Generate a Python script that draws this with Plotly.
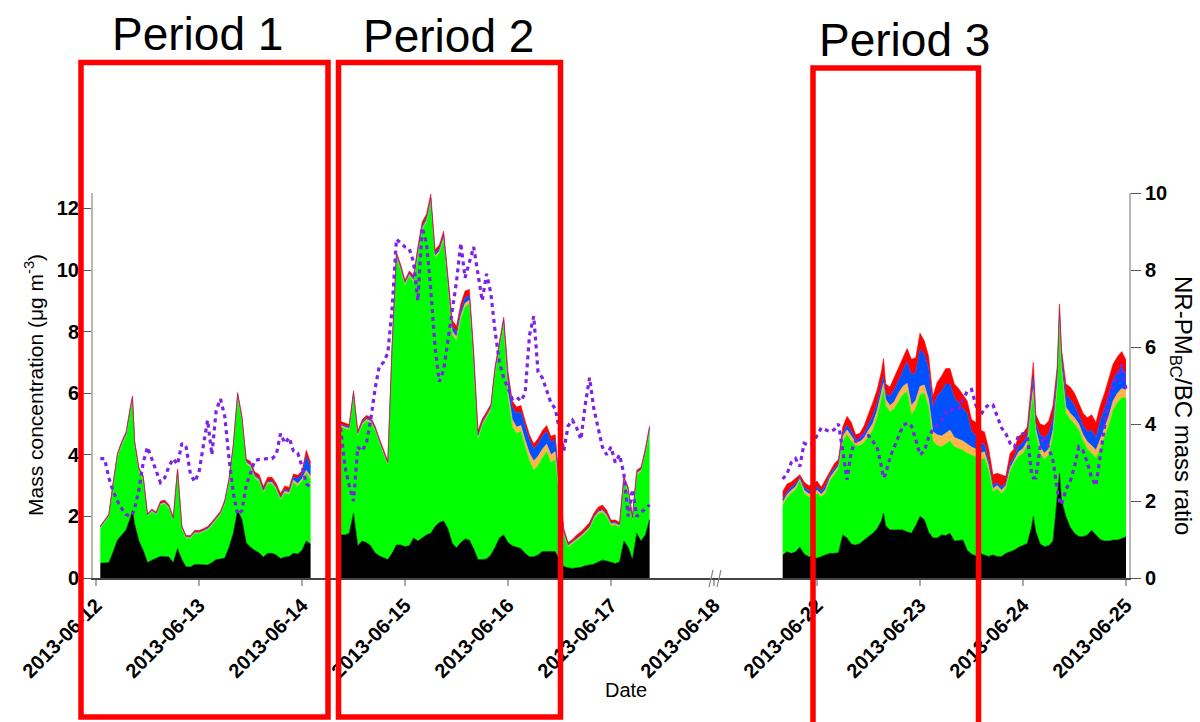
import pandas as pd
import plotly.graph_objects as go

# ---------------------------------------------------------------
# Segment 1: hours after 2013-06-12 00:00
seg1_hours = [1, 2, 3, 4, 5, 6, 7, 8, 8.5, 9, 10, 11, 12, 13, 14, 15, 16, 17, 18, 19, 20,
              21, 22, 23, 24, 25, 26, 27, 28, 29, 30, 31, 32, 33, 34, 35, 36, 37, 38, 39, 40,
              41, 42, 43, 44, 45, 46, 47, 48, 49, 50]
seg1_bc = [0.48, 0.50, 0.50, 0.85, 1.23, 1.40, 1.56, 1.95, 2.20, 1.75, 1.20, 0.90, 0.50, 0.58,
           0.65, 0.70, 0.70, 0.68, 0.50, 0.95, 0.60, 0.36, 0.36, 0.44, 0.44, 0.42, 0.42, 0.50,
           0.60, 0.62, 0.65, 1.00, 1.45, 2.20, 1.90, 1.15, 1.00, 0.90, 0.82, 0.68, 0.80, 0.80,
           0.75, 0.63, 0.68, 0.70, 0.80, 0.78, 0.90, 1.20, 1.10]
seg1_org = [1.13, 1.30, 1.49, 2.15, 2.71, 2.90, 3.03, 3.45, 3.55, 2.55, 2.25, 2.30, 1.50, 1.57,
            1.40, 1.67, 1.70, 1.58, 1.38, 2.50, 1.00, 0.93, 0.93, 1.01, 1.00, 1.08, 1.14, 1.20,
            1.28, 1.43, 1.75, 2.10, 2.75, 3.65, 3.20, 2.55, 2.60, 2.34, 2.32, 2.08, 2.26, 2.26,
            2.11, 1.90, 2.08, 2.00, 2.30, 2.20, 2.24, 2.20, 2.10]
seg1_nh4 = [0.03, 0.03, 0.03, 0.04, 0.04, 0.05, 0.05, 0.05, 0.05, 0.05, 0.05, 0.04, 0.03, 0.03,
            0.03, 0.04, 0.04, 0.04, 0.03, 0.03, 0.03, 0.03, 0.03, 0.03, 0.03, 0.03, 0.03, 0.04,
            0.04, 0.04, 0.04, 0.05, 0.05, 0.05, 0.05, 0.05, 0.05, 0.05, 0.05, 0.05, 0.05, 0.05,
            0.05, 0.05, 0.06, 0.07, 0.08, 0.08, 0.08, 0.10, 0.10]
seg1_no3 = [0.02, 0.02, 0.02, 0.03, 0.03, 0.04, 0.05, 0.05, 0.06, 0.05, 0.03, 0.03, 0.02, 0.02,
            0.02, 0.02, 0.02, 0.02, 0.02, 0.02, 0.02, 0.02, 0.02, 0.02, 0.02, 0.02, 0.03, 0.03,
            0.03, 0.03, 0.04, 0.04, 0.05, 0.07, 0.06, 0.05, 0.05, 0.05, 0.05, 0.04, 0.04, 0.04,
            0.04, 0.04, 0.05, 0.05, 0.10, 0.18, 0.15, 0.45, 0.30]
seg1_so4 = [0.03, 0.03, 0.04, 0.04, 0.04, 0.05, 0.05, 0.05, 0.05, 0.05, 0.05, 0.05, 0.04, 0.04,
            0.04, 0.06, 0.07, 0.06, 0.05, 0.04, 0.04, 0.04, 0.04, 0.05, 0.05, 0.05, 0.05, 0.05,
            0.05, 0.05, 0.05, 0.05, 0.05, 0.05, 0.05, 0.06, 0.08, 0.10, 0.12, 0.12, 0.12, 0.12,
            0.12, 0.12, 0.12, 0.12, 0.10, 0.10, 0.10, 0.20, 0.15]
seg1_ratio = [3.1, 3.1, 2.6, 2.25, 2.0, 1.8, 1.65, 1.6, 1.65, 1.8, 2.3, 3.0, 3.4, 3.1, 2.75,
              2.48, 2.6, 2.9, 3.1, 2.95, 3.5, 3.4, 2.7, 2.5, 2.75, 3.45, 4.1, 3.2, 4.35, 4.65,
              4.2, 3.1, 2.2, 1.65, 1.75, 2.4, 2.7, 3.05, 3.08, 3.1, 3.1, 3.1, 3.2, 3.75, 3.5,
              3.65, 3.3, 3.25, 2.9, 2.45, 2.35]

# Segment 2: hours after 2013-06-12 00:00
seg2_hours = list(range(57, 130))
seg2_bc = [1.40, 1.40, 1.45, 2.10, 1.05, 1.20, 1.15, 1.05, 0.82, 0.72, 0.66, 0.60, 0.80, 1.07,
           1.07, 1.02, 1.05, 1.30, 1.20, 1.29, 1.40, 1.45, 1.67, 1.80, 1.85, 1.60, 1.13, 0.98,
           1.15, 1.27, 1.23, 0.95, 0.60, 0.60, 0.62, 0.75, 1.00, 1.30, 1.40, 1.15, 1.05, 1.00,
           0.96, 0.80, 0.69, 0.69, 0.75, 0.86, 0.86, 0.86, 0.86, 0.60, 0.37, 0.33, 0.31, 0.33,
           0.35, 0.40, 0.42, 0.45, 0.52, 0.58, 0.55, 0.52, 0.47, 0.52, 1.20, 1.00, 0.60, 1.45,
           1.20, 1.40, 1.90]
seg2_org = [3.50, 3.45, 3.35, 3.80, 3.55, 3.75, 3.95, 4.00, 3.98, 3.68, 3.34, 3.06, 6.60, 9.33,
            8.93, 8.48, 8.75, 8.30, 9.30, 10.01, 10.15, 10.75, 8.73, 8.75, 9.15, 7.80, 6.77,
            6.72, 7.25, 7.53, 7.67, 6.05, 3.90, 4.35, 4.58, 4.70, 5.70, 6.15, 6.85, 4.70, 3.85,
            3.70, 3.79, 3.45, 3.11, 2.81, 2.90, 3.04, 3.24, 2.89, 2.99, 2.00, 1.03, 0.67, 0.79,
            0.89, 0.97, 1.05, 1.18, 1.45, 1.56, 1.55, 1.43, 1.18, 1.25, 1.13, 1.95, 1.80, 1.27,
            1.90, 2.25, 2.60, 2.85]
seg2_nh4 = [0.05, 0.05, 0.05, 0.05, 0.05, 0.05, 0.05, 0.05, 0.04, 0.04, 0.04, 0.04, 0.05, 0.05,
            0.05, 0.05, 0.05, 0.06, 0.06, 0.06, 0.06, 0.06, 0.06, 0.06, 0.06, 0.08, 0.12, 0.12,
            0.12, 0.12, 0.12, 0.10, 0.08, 0.06, 0.05, 0.05, 0.05, 0.05, 0.06, 0.20, 0.25, 0.20,
            0.20, 0.22, 0.25, 0.30, 0.30, 0.28, 0.25, 0.25, 0.25, 0.15, 0.06, 0.05, 0.05, 0.05,
            0.05, 0.05, 0.05, 0.06, 0.06, 0.06, 0.06, 0.06, 0.05, 0.05, 0.05, 0.05, 0.05, 0.05,
            0.05, 0.06, 0.06]
seg2_no3 = [0.05, 0.05, 0.05, 0.05, 0.05, 0.05, 0.05, 0.05, 0.04, 0.04, 0.04, 0.04, 0.05, 0.05,
            0.05, 0.05, 0.05, 0.07, 0.08, 0.08, 0.08, 0.08, 0.08, 0.08, 0.08, 0.10, 0.15, 0.15,
            0.18, 0.18, 0.15, 0.10, 0.06, 0.05, 0.05, 0.05, 0.05, 0.05, 0.06, 0.45, 0.40, 0.45,
            0.45, 0.45, 0.45, 0.40, 0.40, 0.42, 0.42, 0.42, 0.40, 0.15, 0.04, 0.03, 0.03, 0.03,
            0.03, 0.03, 0.03, 0.04, 0.04, 0.04, 0.04, 0.04, 0.03, 0.03, 0.04, 0.04, 0.03, 0.04,
            0.04, 0.06, 0.06]
seg2_so4 = [0.08, 0.08, 0.08, 0.08, 0.07, 0.08, 0.08, 0.07, 0.06, 0.06, 0.06, 0.06, 0.07, 0.07,
            0.07, 0.07, 0.07, 0.10, 0.12, 0.12, 0.12, 0.12, 0.12, 0.12, 0.12, 0.15, 0.20, 0.20,
            0.20, 0.22, 0.20, 0.18, 0.15, 0.10, 0.08, 0.08, 0.08, 0.08, 0.10, 0.20, 0.20, 0.20,
            0.20, 0.18, 0.15, 0.15, 0.18, 0.18, 0.18, 0.18, 0.15, 0.10, 0.10, 0.07, 0.07, 0.10,
            0.10, 0.12, 0.12, 0.10, 0.12, 0.14, 0.12, 0.08, 0.08, 0.07, 0.06, 0.06, 0.05, 0.06,
            0.06, 0.08, 0.08]
seg2_ratio = [3.9, 2.9, 2.4, 2.0, 3.4, 3.3, 3.5, 4.1, 4.9, 5.5, 5.6, 5.85, 7.0, 8.8, 8.7, 8.6,
              8.55, 8.2, 7.2, 9.1, 8.7, 7.5, 6.0, 5.1, 5.4, 6.2, 7.0, 7.7, 8.7, 7.8, 8.2, 8.6,
              7.9, 7.2, 7.9, 7.4, 6.4, 5.6, 5.2, 4.95, 4.65, 4.7, 4.6, 4.8, 6.3, 6.8, 5.35, 5.2,
              4.9, 4.55, 4.4, 3.8, 3.3, 3.95, 4.1, 3.9, 3.6, 4.5, 5.2, 4.4, 3.9, 3.4, 3.2, 3.4,
              3.0, 3.2, 2.7, 1.6, 2.3, 1.6, 1.7, 1.8, 1.9]

# Segment 3: hours after 2013-06-22 00:00
seg3_hours = [-8, -7, -6, -5, -4, -3, -2, -1, 0, 1, 2, 3, 4, 5, 6, 7, 8, 9, 10, 11, 12, 13, 14,
              15, 15.5, 16, 17, 18, 19, 20, 21, 22, 23, 24, 25, 26, 27, 28, 29, 30, 31, 32, 33,
              34, 35, 36, 37, 38, 39, 40, 41, 42, 43, 44, 45, 46, 47, 48, 49, 50, 50.4, 51, 52,
              53, 54, 55, 56, 56.5, 57, 58, 59, 60, 61, 62, 63, 64, 65, 66, 67, 68, 69, 70, 71, 72]
seg3_bc = [0.75, 0.85, 0.80, 0.85, 1.00, 0.78, 0.70, 0.66, 0.64, 0.70, 0.75, 0.80, 0.80, 0.82,
           1.40, 1.30, 1.10, 1.07, 1.12, 1.25, 1.35, 1.45, 1.60, 1.85, 2.10, 1.70, 1.56, 1.56,
           1.56, 1.56, 1.50, 1.45, 1.70, 2.00, 1.90, 1.50, 1.30, 1.30, 1.40, 1.38, 1.45, 1.20,
           1.22, 1.23, 0.90, 0.78, 0.72, 0.80, 0.75, 0.70, 0.75, 0.70, 0.70, 0.80, 0.85, 0.91,
           1.00, 1.05, 1.12, 1.66, 2.00, 1.50, 1.10, 1.02, 1.05, 1.20, 2.56, 3.40, 2.50, 2.00,
           1.65, 1.45, 1.35, 1.34, 1.40, 1.55, 1.40, 1.25, 1.20, 1.20, 1.23, 1.23, 1.28, 1.34]
seg3_org = [1.60, 1.75, 1.95, 2.01, 2.15, 1.97, 1.94, 1.94, 2.11, 1.94, 2.00, 2.35, 2.55, 2.73,
            3.05, 3.35, 3.35, 3.23, 3.18, 3.15, 3.25, 3.35, 3.60, 3.95, 4.00, 3.90, 3.84, 3.94,
            4.19, 4.39, 4.55, 3.85, 3.80, 3.95, 4.10, 4.05, 3.15, 3.00, 2.86, 2.97, 3.00, 3.06,
            2.98, 2.92, 3.15, 3.22, 3.22, 3.03, 3.15, 2.80, 2.05, 2.20, 2.05, 2.10, 2.60, 2.84,
            2.95, 3.00, 3.18, 3.94, 4.00, 3.20, 2.95, 2.83, 2.95, 3.40, 3.64, 5.10, 4.20, 3.35,
            3.50, 3.55, 3.45, 3.11, 2.80, 2.50, 2.50, 2.95, 3.40, 3.75, 4.22, 4.47, 4.57, 4.51]
seg3_nh4 = [0.10, 0.10, 0.10, 0.10, 0.06, 0.10, 0.10, 0.10, 0.10, 0.08, 0.12, 0.10, 0.10, 0.08,
            0.15, 0.16, 0.16, 0.10, 0.12, 0.15, 0.20, 0.22, 0.22, 0.22, 0.22, 0.20, 0.20, 0.22,
            0.25, 0.27, 0.27, 0.30, 0.27, 0.27, 0.27, 0.25, 0.30, 0.35, 0.35, 0.35, 0.35, 0.30,
            0.30, 0.30, 0.30, 0.25, 0.25, 0.22, 0.20, 0.15, 0.10, 0.10, 0.10, 0.10, 0.12, 0.10,
            0.15, 0.15, 0.15, 0.15, 0.15, 0.12, 0.20, 0.20, 0.20, 0.20, 0.15, 0.10, 0.15, 0.20,
            0.20, 0.20, 0.20, 0.20, 0.22, 0.25, 0.25, 0.30, 0.30, 0.30, 0.30, 0.30, 0.30, 0.25]
seg3_no3 = [0.10, 0.10, 0.10, 0.10, 0.06, 0.10, 0.10, 0.12, 0.12, 0.10, 0.13, 0.10, 0.10, 0.08,
            0.10, 0.16, 0.16, 0.10, 0.10, 0.15, 0.20, 0.25, 0.25, 0.22, 0.22, 0.20, 0.30, 0.40,
            0.45, 0.50, 0.70, 1.00, 0.90, 1.20, 1.00, 1.00, 0.80, 1.25, 1.45, 1.60, 1.50, 1.30,
            1.20, 1.05, 1.00, 0.50, 0.45, 0.35, 0.25, 0.15, 0.10, 0.10, 0.10, 0.10, 0.15, 0.12,
            0.20, 0.20, 0.20, 0.35, 0.40, 0.20, 0.40, 0.50, 0.50, 0.40, 0.30, 0.15, 0.30, 0.40,
            0.45, 0.40, 0.30, 0.30, 0.33, 0.50, 0.40, 0.60, 0.60, 0.70, 0.70, 0.68, 0.70, 0.50]
seg3_so4 = [0.25, 0.25, 0.17, 0.19, 0.08, 0.17, 0.16, 0.18, 0.18, 0.13, 0.20, 0.15, 0.15, 0.14,
            0.20, 0.28, 0.28, 0.15, 0.18, 0.25, 0.30, 0.43, 0.43, 0.46, 0.59, 0.30, 0.30, 0.38,
            0.35, 0.43, 0.43, 0.50, 0.48, 0.53, 0.43, 0.40, 0.35, 0.45, 0.49, 0.50, 0.50, 0.44,
            0.45, 0.45, 0.40, 0.40, 0.41, 0.40, 0.40, 0.40, 0.35, 0.30, 0.40, 0.20, 0.33, 0.23,
            0.30, 0.30, 0.25, 0.40, 0.45, 0.28, 0.35, 0.40, 0.40, 0.40, 0.25, 0.15, 0.25, 0.35,
            0.40, 0.40, 0.40, 0.40, 0.45, 0.50, 0.50, 0.50, 0.50, 0.50, 0.50, 0.50, 0.50, 0.48]
seg3_ratio = [2.57, 2.7, 3.0, 3.1, 2.9, 3.5, 3.45, 3.5, 3.7, 3.9, 3.85, 3.8, 3.85, 4.0, 3.3,
              2.55, 3.3, 3.55, 3.66, 3.74, 3.7, 3.55, 3.4, 2.9, 2.6, 2.7, 3.13, 3.4, 3.7, 3.95,
              4.03, 3.95, 3.6, 3.2, 3.3, 3.65, 3.85, 3.96, 4.1, 4.3, 4.4, 4.35, 4.4, 4.65, 4.85,
              4.9, 4.5, 4.2, 4.4, 4.5, 4.5, 4.2, 3.9, 3.75, 3.5, 3.4, 3.7, 3.75, 3.7, 2.7, 2.6,
              2.6, 3.4, 3.7, 3.4, 3.05, 2.27, 2.0, 1.9, 2.3, 2.5, 2.9, 3.4, 3.3, 3.0, 2.6, 2.4,
              3.2, 4.0, 4.7, 5.0, 5.3, 5.55, 4.9]

tick_dates = ["2013-06-12", "2013-06-13", "2013-06-14", "2013-06-15", "2013-06-16",
              "2013-06-17", "2013-06-18", "2013-06-22", "2013-06-23", "2013-06-24",
              "2013-06-25"]

segments = [
    ("2013-06-12", seg1_hours, seg1_bc, seg1_org, seg1_nh4, seg1_no3, seg1_so4, seg1_ratio),
    ("2013-06-12", seg2_hours, seg2_bc, seg2_org, seg2_nh4, seg2_no3, seg2_so4, seg2_ratio),
    ("2013-06-22", seg3_hours, seg3_bc, seg3_org, seg3_nh4, seg3_no3, seg3_so4, seg3_ratio),
]

species_colors = ["#000000", "#00FF00", "#FFB54A", "#0050FF", "#FF0000"]
ratio_color = "#7D22E6"
FONT = "Liberation Sans, Arial, Helvetica, sans-serif"

fig = go.Figure()
for i, (base, hours, bc, org, nh4, no3, so4, ratio) in enumerate(segments):
    t = pd.Timestamp(base) + pd.to_timedelta(hours, unit="h")
    for vals, col in zip([bc, org, nh4, no3, so4], species_colors):
        fig.add_trace(go.Scatter(
            x=t, y=vals, mode="lines", stackgroup=f"seg{i}",
            line=dict(width=0.6, color=col), fillcolor=col,
            hoverinfo="skip", showlegend=False))
for i, (base, hours, bc, org, nh4, no3, so4, ratio) in enumerate(segments):
    t = pd.Timestamp(base) + pd.to_timedelta(hours, unit="h")
    fig.add_trace(go.Scatter(
        x=t, y=ratio, mode="lines", yaxis="y2",
        line=dict(color=ratio_color, width=3.2, dash="4px,4px"),
        showlegend=False))

# plot area in pixels
L, R, T, B = 93, 1129, 193, 578
W, H = R - L, B - T


def px(xp):
    return (xp - L) / W


def py(yp):
    return (B - yp) / H


tick_font = dict(family=FONT, size=20, color="black", weight="bold")

fig.update_layout(
    width=1200, height=722,
    margin=dict(l=L, r=1200 - R, t=T, b=722 - B),
    paper_bgcolor="white", plot_bgcolor="white",
    showlegend=False,
    xaxis=dict(
        type="date",
        range=["2013-06-11 23:18", "2013-06-25 00:42"],
        rangebreaks=[dict(bounds=["2013-06-18 12:00", "2013-06-21 12:00"])],
        tickvals=tick_dates, ticktext=tick_dates,
        tickangle=-45, tickfont=tick_font,
        ticks="outside", ticklen=6, tickcolor="#aaaaaa", tickwidth=1.5,
        showline=True, linecolor="#444444", linewidth=1.5,
        showgrid=False, zeroline=False,
    ),
    yaxis=dict(
        range=[0, 12.5], tickvals=[0, 2, 4, 6, 8, 10, 12],
        tickfont=tick_font, ticks="outside", ticklen=8, tickcolor="#555555",
        showline=True, linecolor="#b8b8b8", linewidth=2,
        showgrid=False, zeroline=False,
    ),
    yaxis2=dict(
        range=[0, 10], tickvals=[0, 2, 4, 6, 8, 10], overlaying="y", side="right",
        tickfont=tick_font, ticks="outside", ticklen=10, tickcolor="#555555",
        showline=True, linecolor="#b8b8b8", linewidth=2,
        showgrid=False, zeroline=False,
    ),
)

annotations = [
    dict(text="Mass concentration (μg m<sup>-3</sup>)", x=px(34), y=py(385), textangle=-90,
         font=dict(family=FONT, size=21, color="black")),
    dict(text="NR-PM<sub>BC</sub>/BC mass ratio", x=px(1182), y=py(405), textangle=90,
         font=dict(family=FONT, size=24, color="black")),
    dict(text="Date", x=px(626), y=py(690), font=dict(family=FONT, size=20, color="black")),
    dict(text="Period 1", x=px(197), y=py(34), font=dict(family=FONT, size=46, color="black")),
    dict(text="Period 2", x=px(448), y=py(36), font=dict(family=FONT, size=46, color="black")),
    dict(text="Period 3", x=px(904), y=py(40), font=dict(family=FONT, size=46, color="black")),
]
for a in annotations:
    a.update(xref="paper", yref="paper", showarrow=False, xanchor="center", yanchor="middle")
fig.update_layout(annotations=annotations)

shapes = []
# period boxes
for x0, x1, y0, y1 in [(81, 328, 62.5, 717), (338.5, 560.5, 62.5, 717), (813, 978.5, 68, 740)]:
    shapes.append(dict(type="rect", xref="paper", yref="paper",
                       x0=px(x0), x1=px(x1), y0=py(y1), y1=py(y0),
                       line=dict(color="#FF0000", width=5.5), fillcolor="rgba(0,0,0,0)",
                       layer="above"))
# axis break marks
for xb in (709, 717):
    shapes.append(dict(type="line", xref="paper", yref="paper",
                       x0=px(xb), y0=py(587), x1=px(xb + 4), y1=py(570),
                       line=dict(color="#888888", width=1.2), layer="above"))
fig.update_layout(shapes=shapes)

fig.write_html("out.html")
